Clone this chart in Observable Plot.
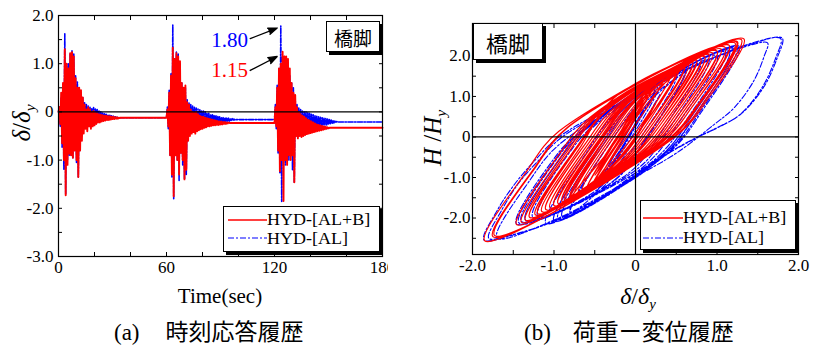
<!DOCTYPE html>
<html><head><meta charset="utf-8">
<script src="https://cdn.jsdelivr.net/npm/d3@7"></script>
<script src="https://cdn.jsdelivr.net/npm/@observablehq/plot@0.6"></script>
<style>
html,body{margin:0;padding:0;background:#fff;}
body{width:826px;height:352px;position:relative;overflow:hidden;font-family:"Liberation Serif",serif;color:#000;}
.abs{position:absolute;}
.ctr{position:absolute;transform:translate(-50%,-50%);white-space:nowrap;}
.box{position:absolute;background:#fff;border:1px solid #000;box-shadow:3px 3px 0 #000;box-sizing:border-box;}
.lg{position:absolute;font-size:17px;line-height:17px;white-space:nowrap;transform:scaleX(1.06);transform-origin:left center;}
.cjk{font-family:"Noto Sans CJK JP",sans-serif;}
i sub{font-size:0.62em;vertical-align:-0.35em;line-height:0;}
</style></head><body>
<div id="pa" class="abs" style="left:0;top:0;width:388px;height:300px;overflow:hidden"></div>
<div id="pb" class="abs" style="left:400px;top:0;width:426px;height:300px;"></div>

<div class="ctr" style="left:22px;top:123px;transform:translate(-50%,-50%) rotate(-90deg);font-size:25px"><i>δ</i>/<i>δ<sub>y</sub></i></div>
<div class="ctr" style="left:220px;top:296px;font-size:21px">Time(sec)</div>
<div class="ctr" style="left:433px;top:138px;transform:translate(-50%,-50%) rotate(-90deg);font-size:25px"><i>H</i> /<i>H<sub>y</sub></i></div>
<div class="ctr" style="left:638px;top:296px;font-size:24px"><i>δ</i>/<i>δ<sub>y</sub></i></div>

<div class="abs" style="left:114px;top:316px;font-size:23px;line-height:28px;white-space:nowrap"><span>(a)</span><span class="cjk" style="margin-left:26px;font-size:23px">時刻応答履歴</span></div>
<div class="abs" style="left:524px;top:316px;font-size:23px;line-height:28px;white-space:nowrap"><span>(b)</span><span class="cjk" style="margin-left:22px;font-size:23px">荷重ー変位履歴</span></div>

<div class="box" style="left:326px;top:21px;width:54px;height:31px"><div class="ctr cjk" style="left:50%;top:50%;font-size:19px">橋脚</div></div>
<div class="box" style="left:473px;top:23px;width:70px;height:37px"><div class="ctr cjk" style="left:50%;top:50%;font-size:22px">橋脚</div></div>

<div class="box" style="left:223px;top:206px;width:157px;height:46px">
 <svg width="44" height="46" style="position:absolute;left:3px;top:0">
  <line x1="1" x2="40" y1="13" y2="13" stroke="#ff0000" stroke-width="1.5"/>
  <line x1="1" x2="40" y1="31" y2="31" stroke="#0000ff" stroke-width="1.2" stroke-dasharray="6,2,2,2"/>
 </svg>
 <div class="lg" style="left:43px;top:4px">HYD-[AL+B]</div>
 <div class="lg" style="left:43px;top:23px">HYD-[AL]</div>
</div>
<div class="box" style="left:640px;top:200px;width:156px;height:50px">
 <svg width="44" height="50" style="position:absolute;left:1px;top:0">
  <line x1="1" x2="41" y1="17" y2="17" stroke="#ff0000" stroke-width="1.5"/>
  <line x1="1" x2="41" y1="37" y2="37" stroke="#0000ff" stroke-width="1.2" stroke-dasharray="6,2,2,2"/>
 </svg>
 <div class="lg" style="left:42px;top:8px">HYD-[AL+B]</div>
 <div class="lg" style="left:42px;top:28px">HYD-[AL]</div>
</div>

<script>
// ---------- (a) time history: samples every dt seconds from each burst start ----------
const dt = 0.5;
const burstStarts = [0, 60, 120];
const redBurst1 = [0,0.1,-0.25,0.4,-0.65,0.6,-1.0,1.3,-1.73,1.0,-1.1,0.9,-0.87,1.22,-0.9,1.24,-0.95,1.15,-0.8,0.7,-1.0,0.5,-1.35,0.5,-0.8,0.45,-0.6,0.3,-0.45,0.15,-0.35,0.05,-0.4,0.1,-0.3,0.05,-0.35,0.0,-0.3,0.02,-0.28,-0.02,-0.25,-0.03,-0.22,-0.05,-0.22,-0.06,-0.2,-0.07,-0.19,-0.08,-0.18,-0.08,-0.17,-0.09,-0.17,-0.09,-0.16,-0.1,-0.15,-0.1,-0.15,-0.11,-0.14,-0.11,-0.14,-0.12,-0.13,-0.12,-0.12];
const redBurst2 = [-0.12,0.05,-0.3,0.4,-0.9,0.75,-1.3,1.33,-1.75,1.1,-0.9,1.22,-1.0,1.15,-1.3,1.05,-0.85,0.6,-1.0,0.5,-1.4,0.55,-1.2,0.2,-0.6,0.15,-0.5,0.05,-0.45,0.0,-0.42,-0.02,-0.45,0.0,-0.4,-0.05,-0.38,-0.08,-0.36,-0.1,-0.35,-0.1,-0.33,-0.12,-0.32,-0.13,-0.3,-0.14,-0.3,-0.15,-0.29,-0.16,-0.28,-0.17,-0.28,-0.18,-0.27,-0.19,-0.27,-0.2,-0.26,-0.2,-0.26,-0.21,-0.25,-0.21,-0.25,-0.22,-0.24,-0.22,-0.23];
const redBurst3 = [-0.23,0.1,-0.3,0.5,-0.8,0.9,-1.23,1.0,-1.0,1.25,-1.85,1.15,-1.0,1.15,-1.1,1.1,-0.9,0.9,-1.0,0.6,-0.9,0.4,-1.46,0.35,-0.5,0.1,-0.55,0.0,-0.5,-0.05,-0.52,-0.08,-0.5,-0.1,-0.48,-0.13,-0.46,-0.16,-0.45,-0.18,-0.44,-0.2,-0.43,-0.22,-0.42,-0.24,-0.41,-0.26,-0.4,-0.27,-0.39,-0.28,-0.38,-0.29,-0.37,-0.3,-0.36,-0.31,-0.35,-0.32,-0.34,-0.33,-0.33];
const blueBurst1 = [0,0.1,-0.3,0.3,-0.75,0.5,-1.2,1.62,-1.7,1.0,-1.0,1.0,-0.9,1.2,-0.9,1.27,-0.95,1.2,-0.8,0.75,-1.05,0.62,-1.35,0.5,-0.8,0.4,-0.5,0.3,-0.35,0.2,-0.3,0.15,-0.25,0.12,-0.22,0.1,-0.2,0.08,-0.2,0.1,-0.18,0.06,-0.17,0.05,-0.16,0.02,-0.16,0.0,-0.15,-0.02,-0.15,-0.03,-0.15,-0.05,-0.14,-0.06,-0.14,-0.07,-0.14,-0.08,-0.14,-0.09,-0.13,-0.1,-0.13,-0.11,-0.12];
const blueBurst2 = [-0.12,0.1,-0.35,0.45,-0.9,0.8,-1.35,1.8,-1.8,1.1,-0.9,1.24,-1.0,1.2,-1.43,1.0,-0.85,0.6,-1.1,0.45,-1.4,0.5,-1.3,0.25,-0.6,0.2,-0.4,0.15,-0.35,0.12,-0.3,0.1,-0.28,0.08,-0.27,0.06,-0.26,0.05,-0.25,0.03,-0.25,0.02,-0.24,0.0,-0.24,-0.02,-0.23,-0.03,-0.23,-0.05,-0.22,-0.06,-0.22,-0.07,-0.22,-0.08,-0.21,-0.09,-0.21,-0.1,-0.21,-0.11,-0.2,-0.12,-0.2,-0.12,-0.2,-0.13,-0.19,-0.13,-0.19,-0.14,-0.18,-0.14,-0.17,-0.15,-0.17,-0.16,-0.16];
const blueBurst3 = [-0.16,0.15,-0.35,0.55,-0.85,0.9,-1.26,1.78,-1.86,1.15,-1.0,1.15,-1.1,1.05,-0.95,0.9,-1.0,0.75,-0.9,0.6,-1.2,0.5,-1.46,0.3,-0.5,0.15,-0.45,0.08,-0.4,0.05,-0.38,0.02,-0.36,0.0,-0.35,0.0,-0.34,-0.02,-0.33,-0.03,-0.33,-0.05,-0.32,-0.06,-0.31,-0.08,-0.3,-0.09,-0.3,-0.1,-0.29,-0.11,-0.28,-0.12,-0.28,-0.13,-0.27,-0.14,-0.27,-0.15,-0.26,-0.16,-0.25,-0.17,-0.24,-0.18,-0.23,-0.19,-0.22,-0.2,-0.21];
const redRest = [-0.12, -0.23, -0.33];
const blueRest = [-0.12, -0.16, -0.21];
const timeEnd = 180;

// annotations of panel (a)
const peakLabels = ["1.80", "1.15"];
const peakColors = ["#0000ff", "#ff0000"];
const peakLabelT = [95, 95];
const peakLabelV = [1.49, 0.87];
const arrowFromT = [106.5, 106.5], arrowFromV = [1.52, 0.86];
const arrowToT = [121.5, 121.5], arrowToV = [1.74, 1.15];

// axes of (a)
const xTicksA = [0,20,40,60,80,100,120,140,160,180];
const xLabelsA = [0,60,120,180];
const yTicksA = [-3,-2.5,-2,-1.5,-1,-0.5,0,0.5,1,1.5,2];
const yLabelsA = [-3,-2,-1,0,1,2];

// ---------- (b) hysteresis loops [δ/δy, H/Hy] ----------
const hystRed1 = [[0,0],[0.25,0.83],[-0.07,-0.24],[-0.34,-0.82],[-0.6,-1.28],[-0.12,0.32],[0.26,1.24],[0.7,1.84],[0.23,0.28],[-0.14,-0.61],[-1.0,-1.69],[-0.51,-0.06],[-0.12,0.89],[1.3,2.4],[0.85,0.9],[0.49,0.03],[-1.73,-2.43],[-1.22,-0.73],[-0.82,0.25],[1.0,2.12],[0.54,0.58],[0.17,-0.3],[-1.1,-1.79],[-0.61,-0.15],[-0.22,0.8],[0.9,2.03],[0.44,0.49],[0.07,-0.4],[-0.87,-1.56],[-0.38,0.07],[0.0,1.0],[1.22,2.32],[0.76,0.79],[0.4,-0.06],[-0.9,-1.59],[-0.41,0.04],[-0.03,0.97],[1.24,2.34],[0.78,0.81],[0.42,-0.04],[-0.95,-1.64],[-0.46,-0.01],[-0.07,0.94],[1.15,2.26],[0.69,0.73],[0.33,-0.13],[-0.8,-1.49],
 [-0.31,0.14],[0.07,1.06],[0.8,1.94],[0.33,0.37],[-0.04,-0.51],[-0.7,-1.38],[-0.22,0.22],[0.16,1.15],[0.6,1.75],[0.13,0.18],[-0.24,-0.71],[-1.2,-1.89],[-0.71,-0.26],[-0.32,0.71],[1.0,2.12],[0.54,0.58],[0.17,-0.3],[-0.65,-1.33],[-0.17,0.27],[0.21,1.19],[0.95,2.07],[0.49,0.54],[0.12,-0.35],[-1.15,-1.84],[-0.66,-0.2],[-0.27,0.95],[0.8,1.94],[0.33,0.37],[-0.04,-0.51],[-0.5,-1.18],[-0.05,0.32],[0.36,1.33],[0.55,1.71],[0.08,0.14],[-0.3,-0.77],[-0.95,-1.64],[-0.46,-0.01],[-0.07,0.94],[0.2,1.38],[-0.27,-0.19],[-0.66,-1.14],[-0.8,-1.49],
 [-0.31,0.14],[0.07,1.06],[0.7,1.84],[0.23,0.28],[-0.14,-0.61],[-1.0,-1.69],[-0.51,-0.06],[-0.12,0.89],[0.5,1.66],[0.03,0.09],[-0.35,-0.83],[-1.35,-2.05],[-0.85,-0.39],[-0.46,0.58],[0.5,1.66],[0.03,0.09],[-0.35,-0.83],[-0.8,-1.49],[-0.31,0.14],[0.07,1.06],[0.45,1.61],[-0.02,0.04],[-0.4,-0.88],[-0.6,-1.28],[-0.12,0.32],[0.3,1.48],[-0.45,-1.02],[0.15,0.98],[-0.35,-0.69],[0.05,0.64],[-0.3,-0.53],[0.0,0.47],[-0.25,-0.36],[-0.05,0.31],[-0.2,-0.19],[-0.12,0.08]];
const hystRed2 = [[-0.12,0.08],[0.13,0.91],[0.36,1.33],[0.75,1.89],[0.28,0.32],[-0.09,-0.56],[-1.3,-1.98],[-0.81,-0.35],[-0.42,0.61],[1.33,2.42],[0.88,0.92],[0.52,0.06],[-1.75,-2.46],[-1.24,-0.76],[-0.84,0.23],[1.1,2.21],[0.64,0.68],[0.28,-0.18],[-0.9,-1.59],
 [-0.41,0.04],[-0.03,0.97],[0.85,1.98],[0.38,0.41],[0.02,-0.45],[-0.75,-1.44],[-0.27,0.16],[0.12,1.11],[1.05,2.17],[0.58,0.6],[0.22,-0.25],[-1.2,-1.89],[-0.71,-0.26],[-0.32,0.71],[0.7,1.84],[0.23,0.28],[-0.14,-0.61],[-0.9,-1.59],
 [-0.41,0.04],[-0.03,0.97],[1.22,2.32],[0.76,0.79],[0.4,-0.06],[-1.0,-1.69],[-0.51,-0.06],[-0.12,0.89],[1.15,2.26],[0.69,0.73],[0.33,-0.13],[-1.3,-1.98],[-0.81,-0.35],[-0.42,0.61],[0.6,1.75],[0.13,0.18],[-0.24,-0.71],[-1.4,-2.1],[-0.9,-0.44],[-0.51,0.53],[0.2,1.38],[-0.5,-0.95],[0.1,1.05],[-0.45,-0.78],[0.0,0.72],[-0.4,-0.61],[-0.1,0.39],[-0.35,-0.44],[-0.15,0.23],[-0.3,-0.27],[-0.23,-0.04]];
const hystRed3 = [[-0.23,-0.04],[0.03,0.83],[0.26,1.24],[0.9,2.03],[0.44,0.49],[0.07,-0.4],[-1.23,-1.92],[-0.73,-0.27],[-0.34,0.69],[1.25,2.35],[0.79,0.82],[0.43,-0.03],[-1.85,-2.56],[-1.34,-0.86],[-0.94,0.14],[1.15,2.26],[0.69,0.73],[0.33,-0.13],[-1.0,-1.69],
 [-0.51,-0.06],[-0.12,0.89],[0.75,1.89],[0.28,0.32],[-0.09,-0.56],[-0.85,-1.54],[-0.37,0.06],[0.02,0.98],[0.65,1.8],[0.18,0.23],[-0.19,-0.66],[-1.05,-1.74],[-0.56,-0.11],[-0.17,0.84],[0.85,1.98],[0.38,0.41],[0.02,-0.45],[-1.0,-1.69],
 [-0.51,-0.06],[-0.12,0.89],[1.15,2.26],[0.69,0.73],[0.33,-0.13],[-1.1,-1.79],[-0.61,-0.15],[-0.22,0.8],[0.9,2.03],[0.44,0.49],[0.07,-0.4],[-1.46,-2.16],[-0.96,-0.49],[-0.56,0.48],[0.35,1.52],[-0.1,0.02],[-0.55,-1.23],[0.0,0.6],[-0.5,-1.07],[-0.05,0.43],[-0.45,-0.9],[-0.15,0.1],[-0.4,-0.73],[-0.25,-0.23],[-0.36,-0.6],[-0.33,-0.5]];
const hystBlue1 = [[0,0],[0.3,1.05],[-0.13,-0.45],[-0.47,-1.3],[-1.2,-1.95],[-0.71,-0.23],[-0.43,0.4],[0.7,1.73],[1.3,2.2],[1.62,2.32],[1.58,2.0],[1.45,1.38],[1.21,0.72],[0.96,0.3],[0.5,-0.4],[0.0,-0.98],[-1.0,-2.05],[-1.7,-2.49],[-1.29,-1.05],[-0.95,-0.21],[0.0,1.0],[1.0,2.0],[0.53,0.35],[0.15,-0.64],[-1.0,-2.07],[-0.48,-0.25],[-0.08,0.81],[1.2,2.18],[0.73,0.53],[0.36,-0.41],[-0.9,-1.96],[-0.38,-0.14],[0.02,0.92],[1.27,2.24],[0.8,0.59],[0.44,-0.33],[-0.95,-2.02],[-0.43,-0.2],[-0.03,0.86],[1.2,2.18],[0.73,0.53],[0.36,-0.41],[-0.8,-1.86],[-0.28,-0.04],[0.12,1.01],[0.62,1.66],[0.13,-0.06],[-0.26,-1.08],[-1.35,-2.05],[-0.89,-0.44],[-0.62,0.17],[0.5,1.55],[0.0,-0.2],[-0.39,-1.22],[-0.8,-1.86],[-0.28,-0.04],[0.12,1.01],[0.3,1.37],[-0.5,-1.43],[0.1,0.67],[-0.35,-0.91],[0.05,0.49],[-0.3,-0.74],[0.0,0.31],[-0.2,-0.39],[-0.12,-0.11]];
const hystBlue2 = [[-0.12,-0.11],[0.13,0.77],[0.36,1.22],[0.8,1.82],[0.31,0.1],[-0.07,-0.87],[-1.35,-2.05],[-0.89,-0.44],[-0.62,0.17],[0.0,1.05],[1.0,1.97],[1.4,2.28],[1.8,2.44],[1.74,1.96],[1.57,1.22],[1.29,0.56],[1.0,0.23],[0.76,0.0],[0.38,-0.43],[0.0,-1.0],[-0.51,-1.58],[-1.0,-2.07],[-1.49,-2.4],[-1.8,-2.5],[-1.64,-1.8],[-1.43,-1.13],[-1.2,-0.6],[-0.9,0.0],[0.0,1.0],[1.1,2.09],[0.63,0.44],[0.25,-0.53],[-0.9,-1.96],[-0.38,-0.14],[0.02,0.92],[1.24,2.21],[0.77,0.56],[0.41,-0.36],[-1.0,-2.07],[-0.48,-0.25],[-0.08,0.81],[1.2,2.18],[0.73,0.53],[0.36,-0.41],[-1.43,-2.12],[-0.98,-0.54],[-0.71,0.07],[0.6,1.64],[0.11,-0.08],[-0.28,-1.1],[-1.4,-2.08],[-0.94,-0.47],[-0.68,0.1],[0.25,1.33],[-0.45,-1.12],[0.1,0.81],[-0.35,-0.77],[0.0,0.46],[-0.3,-0.59],[-0.05,0.29],[-0.2,-0.24],[-0.16,-0.1]];
const hystBlue3 = [[-0.16,-0.1],[0.09,0.78],[0.31,1.18],[0.9,1.91],[0.42,0.23],[0.04,-0.76],[-1.26,-1.98],[-0.78,-0.3],[-0.51,0.3],[0.0,1.08],[1.0,1.99],[1.4,2.3],[1.78,2.43],[1.72,1.95],[1.55,1.21],[1.28,0.55],[1.0,0.22],[0.77,0.0],[0.38,-0.44],[0.0,-1.01],[-0.5,-1.58],[-1.0,-2.08],[-1.5,-2.42],[-1.86,-2.54],[-1.69,-1.79],[-1.47,-1.13],[-1.24,-0.59],[-0.94,0.0],[0.0,1.04],[1.15,2.13],[0.68,0.48],[0.31,-0.47],[-1.0,-2.07],[-0.48,-0.25],[-0.08,0.81],[1.15,2.13],[0.68,0.48],[0.31,-0.47],[-1.1,-2.13],[-0.6,-0.38],[-0.21,0.65],[0.6,1.64],[0.11,-0.08],[-0.28,-1.1],[-1.46,-2.14],[-1.01,-0.56],[-0.74,0.03],[0.3,1.37],[-0.4,-1.08],[0.05,0.5],[-0.3,-0.73],[0.0,0.32],[-0.25,-0.56],[-0.1,-0.04],[-0.28,-0.67],[-0.21,-0.43]];

const xTicksB = [-2,-1.5,-1,-0.5,0,0.5,1,1.5,2];
const yTicksB = [-2.5,-2,-1.5,-1,-0.5,0,0.5,1,1.5,2,2.5];
const labelsB = [-2,-1,0,1,2];

const RED = "#ff0000", BLUE = "#0000ff", DASH = "6,2,2,2";
const fmt = d => d === 0 ? "0" : d.toFixed(1);

function timeSeries(bursts, rests) {
  const out = [];
  bursts.forEach((vals, i) => {
    const t0 = burstStarts[i];
    vals.forEach((v, j) => out.push({t: t0 + j * dt, v}));
    out.push({t: i < bursts.length - 1 ? burstStarts[i + 1] : timeEnd, v: rests[i]});
  });
  return out;
}
const redTS = timeSeries([redBurst1, redBurst2, redBurst3], redRest);
const blueTS = timeSeries([blueBurst1, blueBurst2, blueBurst3], blueRest);
const annots = peakLabels.map((s, i) => ({s, c: peakColors[i], t: peakLabelT[i], v: peakLabelV[i],
  t1: arrowFromT[i], v1: arrowFromV[i], t2: arrowToT[i], v2: arrowToV[i]}));

const styleCommon = {fontFamily: "Liberation Serif, serif", fontSize: "17px", color: "#000", background: "transparent", overflow: "visible"};

const plotA = Plot.plot({
  width: 388, height: 300,
  marginLeft: 58, marginRight: 6, marginTop: 15, marginBottom: 44,
  x: {domain: [0, 180]}, y: {domain: [-3, 2]},
  style: styleCommon,
  marks: [
    Plot.line(blueTS, {x: "t", y: "v", stroke: BLUE, strokeWidth: 1.6, strokeDasharray: "5,1.5,1.5,1.5"}),
    Plot.line(redTS, {x: "t", y: "v", stroke: RED, strokeWidth: 1.9}),
    Plot.ruleY([0], {stroke: "#000", strokeWidth: 1.2}),
    Plot.frame({stroke: "#000", strokeWidth: 1.2}),
    Plot.axisX({ticks: xTicksA, tickSize: -4, tickPadding: 8, tickFormat: d => xLabelsA.includes(d) ? String(d) : "", label: null}),
    Plot.axisX({anchor: "top", ticks: xTicksA, tickSize: -4, tickFormat: () => "", label: null}),
    Plot.axisY({ticks: yTicksA, tickSize: -4, tickPadding: 9, tickFormat: d => yLabelsA.includes(d) ? fmt(d) : "", label: null}),
    Plot.axisY({anchor: "right", ticks: yTicksA, tickSize: -4, tickFormat: () => "", label: null}),
    Plot.arrow(annots, {x1: "t1", y1: "v1", x2: "t2", y2: "v2", stroke: "#000", strokeWidth: 1.3, headLength: 11, headAngle: 40}),
    Plot.text(annots, {x: "t", y: "v", text: "s", fill: "c", fontSize: 21, textAnchor: "middle"})
  ]
});
d3.select(plotA).selectAll('g[aria-label="arrow"] path').attr("fill", "#000");
document.getElementById("pa").append(plotA);

const redH = [...hystRed1, ...hystRed2.slice(1), ...hystRed3.slice(1)];
const blueH = [...hystBlue1, ...hystBlue2.slice(1), ...hystBlue3.slice(1)];

const plotB = Plot.plot({
  width: 426, height: 300,
  marginLeft: 72, marginRight: 28, marginTop: 23, marginBottom: 46,
  x: {domain: [-2, 2]}, y: {domain: [-2.9, 2.8]},
  style: styleCommon,
  marks: [
    Plot.line(blueH, {x: d => d[0], y: d => d[1], stroke: BLUE, strokeWidth: 1.1, strokeDasharray: DASH, curve: "catmull-rom"}),
    Plot.line(redH, {x: d => d[0], y: d => d[1], stroke: RED, strokeWidth: 1.2, curve: "catmull-rom"}),
    Plot.ruleY([0], {stroke: "#000", strokeWidth: 1.2}),
    Plot.ruleX([0], {stroke: "#000", strokeWidth: 1.2}),
    Plot.frame({stroke: "#000", strokeWidth: 1.2}),
    Plot.axisX({ticks: xTicksB, tickSize: -4, tickPadding: 8, tickFormat: d => labelsB.includes(d) ? fmt(d) : "", label: null}),
    Plot.axisX({anchor: "top", ticks: xTicksB, tickSize: -4, tickFormat: () => "", label: null}),
    Plot.axisY({ticks: yTicksB, tickSize: -4, tickPadding: 6, tickFormat: d => labelsB.includes(d) ? fmt(d) : "", label: null}),
    Plot.axisY({anchor: "right", ticks: yTicksB, tickSize: -4, tickFormat: () => "", label: null})
  ]
});
document.getElementById("pb").append(plotB);
</script>
</body></html>
